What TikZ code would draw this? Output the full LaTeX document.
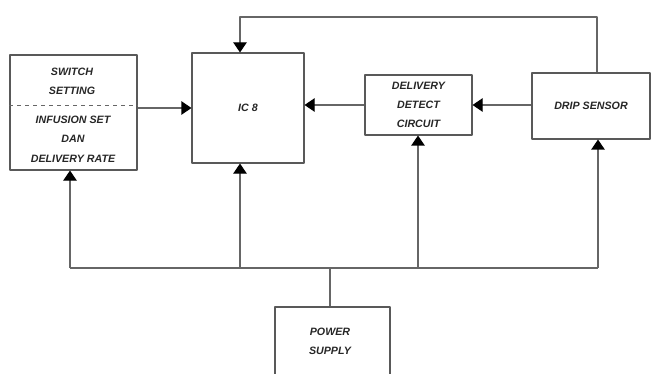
\documentclass[tikz,border=0pt]{standalone}
\usepackage{fontspec}
\setsansfont{Liberation Sans}
\usetikzlibrary{arrows.meta}
\begin{document}
\begin{tikzpicture}[x=0.75pt,y=-0.75pt,>={Triangle[width=10pt,length=7.5pt,color=black]},line join=round,
	blok/.style={draw=black!65,line width=0.8pt,inner sep=0pt,align=center},
	lbl/.style={font=\sffamily\bfseries\itshape\fontsize{8}{14.5}\selectfont,align=center,text=black!85},
	wire/.style={draw=black!60,line width=0.8pt}]
	\useasboundingbox (0,0) rectangle (656,374);
	% blocks
	\node[blok,minimum width=95.25pt,minimum height=86.25pt] (sw) at (73.5,112.5) {};
	\node[blok,minimum width=84pt,minimum height=82.5pt,lbl] (ic) at (248,108) {IC 8};
	\node[blok,minimum width=80.25pt,minimum height=45pt,lbl] (del) at (418.5,105) {DELIVERY\\DETECT\\CIRCUIT};
	\node[blok,minimum width=88.5pt,minimum height=49.5pt,lbl] (drip) at (591,106) {DRIP SENSOR};
	\node[blok,minimum width=86.25pt,minimum height=54.75pt] (pw) at (332.5,343.5) {};
	\node[lbl] (pwt) at (330,341) {POWER\\SUPPLY};
	% switch setting box text
	\node[lbl] (swa) at (72,81) {SWITCH\\SETTING};
	\node[lbl] (swb) at (73,139) {INFUSION SET\\DAN\\DELIVERY RATE};
	\draw[black!60,dashed,line width=0.6pt] (sw.west |- 0,105) -- (sw.east |- 0,105);
	% signal paths
	\draw[wire,->] (sw.east |- ic.west) -- (ic.west);
	\draw[wire,->] (del.west) -- (ic.east |- del.west);
	\draw[wire,->] (drip.west |- del.east) -- (del.east);
	\coordinate (fb) at (597,17);
	\coordinate (ict) at (240,17);
	\draw[wire,->] (drip.north -| fb) -- (fb) -- (ict) -- (ict |- ic.north);
	% power bus
	\coordinate (bus) at (330,268);
	\draw[wire] (pw.north -| bus) -- (bus);
	\draw[wire] (70,268) -- (598,268);
	\foreach \n/\x in {sw/70,ic/240,del/418,drip/598}
		\draw[wire,->] (\x,268) -- (\x,0 |- \n.south);
\end{tikzpicture}
\end{document}
